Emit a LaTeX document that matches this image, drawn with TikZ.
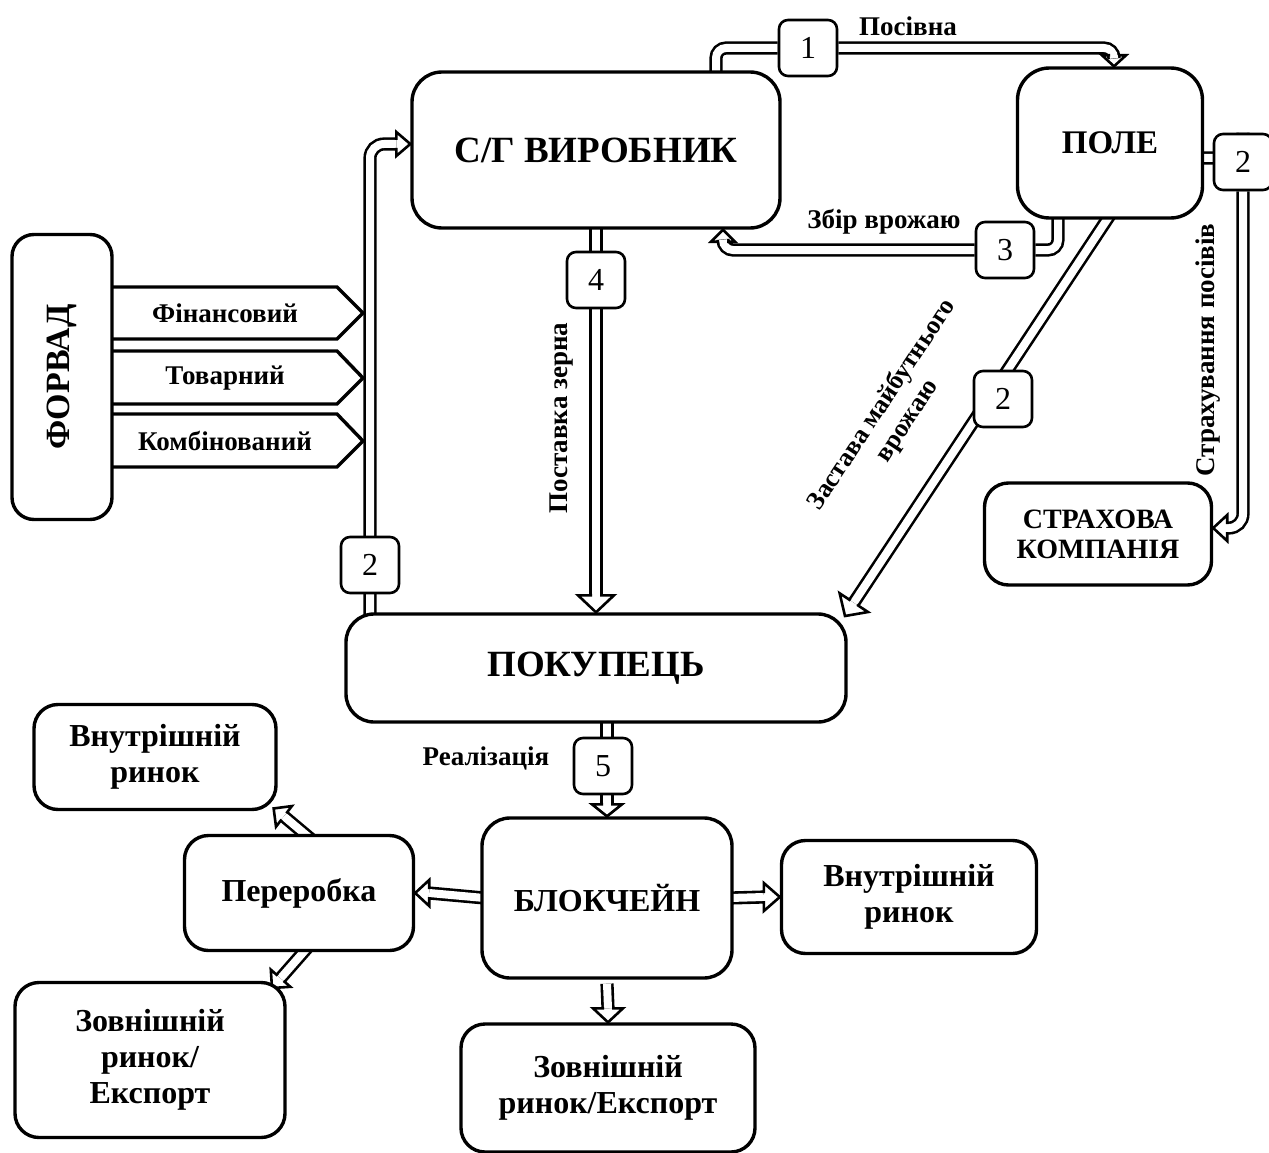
\documentclass[tikz,border=0pt]{standalone}
\usepackage{fontspec}
\setmainfont{Liberation Serif}
\usetikzlibrary{calc}
\pgfdeclarelayer{bg}
\pgfsetlayers{bg,main}
\tikzset{
  box/.style={draw, line width=3.4pt, rounded corners=24pt, fill=white, align=center, inner sep=0pt, font=\bfseries\fontsize{32}{36}\selectfont},
  numbox/.style={draw, line width=2.6pt, rounded corners=9pt, fill=white, minimum width=58pt, minimum height=56pt, inner sep=0pt, font=\fontsize{32}{32}\selectfont},
  lbl/.style={font=\bfseries\fontsize{27}{30}\selectfont, align=center, inner sep=0pt},
  dbl/.style={line width=2.6pt, double=white, double distance=8pt},
  fwd/.style={line width=3.4pt, line join=miter},
  pics/ahead/.style 2 args={code={
    \draw[line width=2.6pt, line join=miter, miter limit=20]
      (-1.5,5.3) -- (0,5.3) -- (0,#2) -- (#1,0) -- (0,-#2) -- (0,-5.3) -- (-1.5,-5.3);
  }},
}
\begin{document}
\begin{tikzpicture}[x=1pt,y=-1pt]
\useasboundingbox (0,0) rectangle (1269,1153);
% main boxes
\node[box, minimum width=368pt, minimum height=156pt, rounded corners=30pt, font=\bfseries\fontsize{37}{40}\selectfont] (sg) at (596,150) {С/Г ВИРОБНИК};
\node[box, minimum width=185pt, minimum height=150pt, rounded corners=32pt, font=\bfseries\fontsize{33}{36}\selectfont] (pole) at (1110,143) {ПОЛЕ};
\node[box, minimum width=100pt, minimum height=285pt, rounded corners=22pt] (fv) at (62,377) {};
\node[lbl, rotate=90, font=\bfseries\fontsize{34}{36}\selectfont] (fvt) at (fv) {ФОРВАД};
\node[box, minimum width=500pt, minimum height=108pt, rounded corners=28pt, font=\bfseries\fontsize{37}{40}\selectfont] (buy) at (596,668) {ПОКУПЕЦЬ};
\node[box, minimum width=227pt, minimum height=102pt, font=\bfseries\fontsize{28}{30}\selectfont] (strah) at (1098,534) {СТРАХОВА\\КОМПАНІЯ};
\node[box, minimum width=250pt, minimum height=160pt, rounded corners=28pt] (block) at (607,898) {БЛОКЧЕЙН};
\node[box, minimum width=255pt, minimum height=113pt] (inrr) at (909,897) {Внутрішній\\ринок};
\node[box, minimum width=229pt, minimum height=115pt] (perer) at (299,893) {Переробка};
\node[box, minimum width=242pt, minimum height=105pt] (inrl) at (155,757) {Внутрішній\\ринок};
\node[box, minimum width=270pt, minimum height=155pt] (zovl) at (150,1060) {Зовнішній\\ринок/\\Експорт};
\node[box, minimum width=294pt, minimum height=128pt] (zovb) at (608,1088) {Зовнішній\\ринок/Експорт};

% forward arrows
\draw[fwd] (112,287) -- (337,287) -- (363,313) -- (337,339) -- (112,339);
\draw[fwd] (112,351) -- (337,351) -- (363,378) -- (337,404) -- (112,404);
\draw[fwd] (112,414) -- (337,414) -- (363,441) -- (337,467) -- (112,467);
\node[lbl] (f1) at (225,313) {Фінансовий};
\node[lbl] (f2) at (225,378) {Товарний};
\node[lbl] (f3) at (225,441) {Комбінований};

% labels
\node[lbl] (lposivna) at (908,26) {Посівна};
\node[lbl] (lzbir) at (884,222) {Збір врожаю};
\node[lbl, rotate=90] (lpost) at (562,418) {Поставка зерна};
\node[lbl, rotate=90] (lstrah) at (1208,350) {Страхування посівів};
\node[lbl, rotate=56.5, font=\bfseries\fontsize{26}{30}\selectfont] (lzast) at (895,413) {Застава майбутнього\\врожаю};
\node[lbl] (lreal) at (486,758) {Реалізація};

% number boxes
\node[numbox] (n1) at (808,48) {1};
\node[numbox] (n3) at (1005,250) {3};
\node[numbox] (n2r) at (1243,162) {2};
\node[numbox] (n2l) at (370,565) {2};
\node[numbox] (n4) at (596,280) {4};
\node[numbox] (n2d) at (1003,399) {2};
\node[numbox] (n5) at (603,766) {5};

% coordinates
\coordinate (s1) at ($(sg.north)+(120,4)$);
\coordinate (e1) at ($(pole.north)+(4,-11)$);
\coordinate (s3) at ($(pole.south)+(-52,-4)$);
\coordinate (e3) at ($(sg.south)+(127,12)$);
\coordinate (s2r) at ($(pole.east)+(-4,15)$);
\coordinate (e2r) at ($(strah.east)+(14,-6)$);
\coordinate (s2l) at ($(buy.north)+(-226,4)$);
\coordinate (e2l) at ($(sg.west)+(-14,-6)$);
\coordinate (s4) at ($(sg.south)+(0,-4)$);
\coordinate (e4) at ($(buy.north)+(0,-17)$);
\coordinate (s2d) at (1112,212);
\coordinate (t2d) at (845,616);
\coordinate (e2d) at ($(t2d)!16pt!(s2d)$);
\coordinate (s5) at ($(buy.south -| block.north)+(0,-4)$);
\coordinate (e5) at ($(block.north)+(0,-12)$);
\coordinate (sbr) at ($(block.east)+(-4,0)$);
\coordinate (ebr) at ($(inrr.west)+(-16,0)$);
\coordinate (sbl) at ($(block.west)+(4,0)$);
\coordinate (ebl) at ($(perer.east)+(14,0)$);
\coordinate (spu) at (312,840);
\coordinate (tpu) at (274,808);
\coordinate (epu) at ($(tpu)!13pt!(spu)$);
\coordinate (spd) at (308,947);
\coordinate (tpd) at (272,988);
\coordinate (epd) at ($(tpd)!13pt!(spd)$);
\coordinate (sbd) at ($(block.south)+(0,4)$);
\coordinate (ebd) at ($(zovb.north)+(0,-14)$);

\begin{pgfonlayer}{bg}
\draw[dbl, rounded corners=10pt] (s1) |- (n1) -| (e1);
\pic[rotate=-90] at (e1) {ahead={11}{12}};
\draw[dbl, rounded corners=10pt] (s3) |- (n3) -| (e3);
\pic[rotate=90] at (e3) {ahead={12}{12}};
\draw[dbl, rounded corners=14pt] (s2r) -| (n2r) |- (e2r);
\pic[rotate=180] at (e2r) {ahead={14}{13}};
\draw[dbl, rounded corners=14pt] (s2l) |- (e2l);
\pic at (e2l) {ahead={14}{12}};
\draw[dbl] (s4) -- (e4);
\pic[rotate=-90] at (e4) {ahead={17}{18}};
\draw[dbl] (s2d) -- (e2d);
\pic[rotate=-123.5] at (e2d) {ahead={16}{17}};
\draw[dbl] (s5) -- (e5);
\pic[rotate=-90] at (e5) {ahead={12}{15}};
\draw[dbl] (sbr) -- (ebr);
\pic at (ebr) {ahead={16}{14}};
\draw[dbl] (sbl) -- (ebl);
\pic[rotate=180] at (ebl) {ahead={14}{13}};
\draw[dbl] (spu) -- (epu);
\pic[rotate=142.4] at (epu) {ahead={13}{13}};
\draw[dbl] (spd) -- (epd);
\pic[rotate=-131.3] at (epd) {ahead={13}{13}};
\draw[dbl] (sbd) -- (ebd);
\pic[rotate=-90] at (ebd) {ahead={14}{15}};
\end{pgfonlayer}
\end{tikzpicture}
\end{document}
